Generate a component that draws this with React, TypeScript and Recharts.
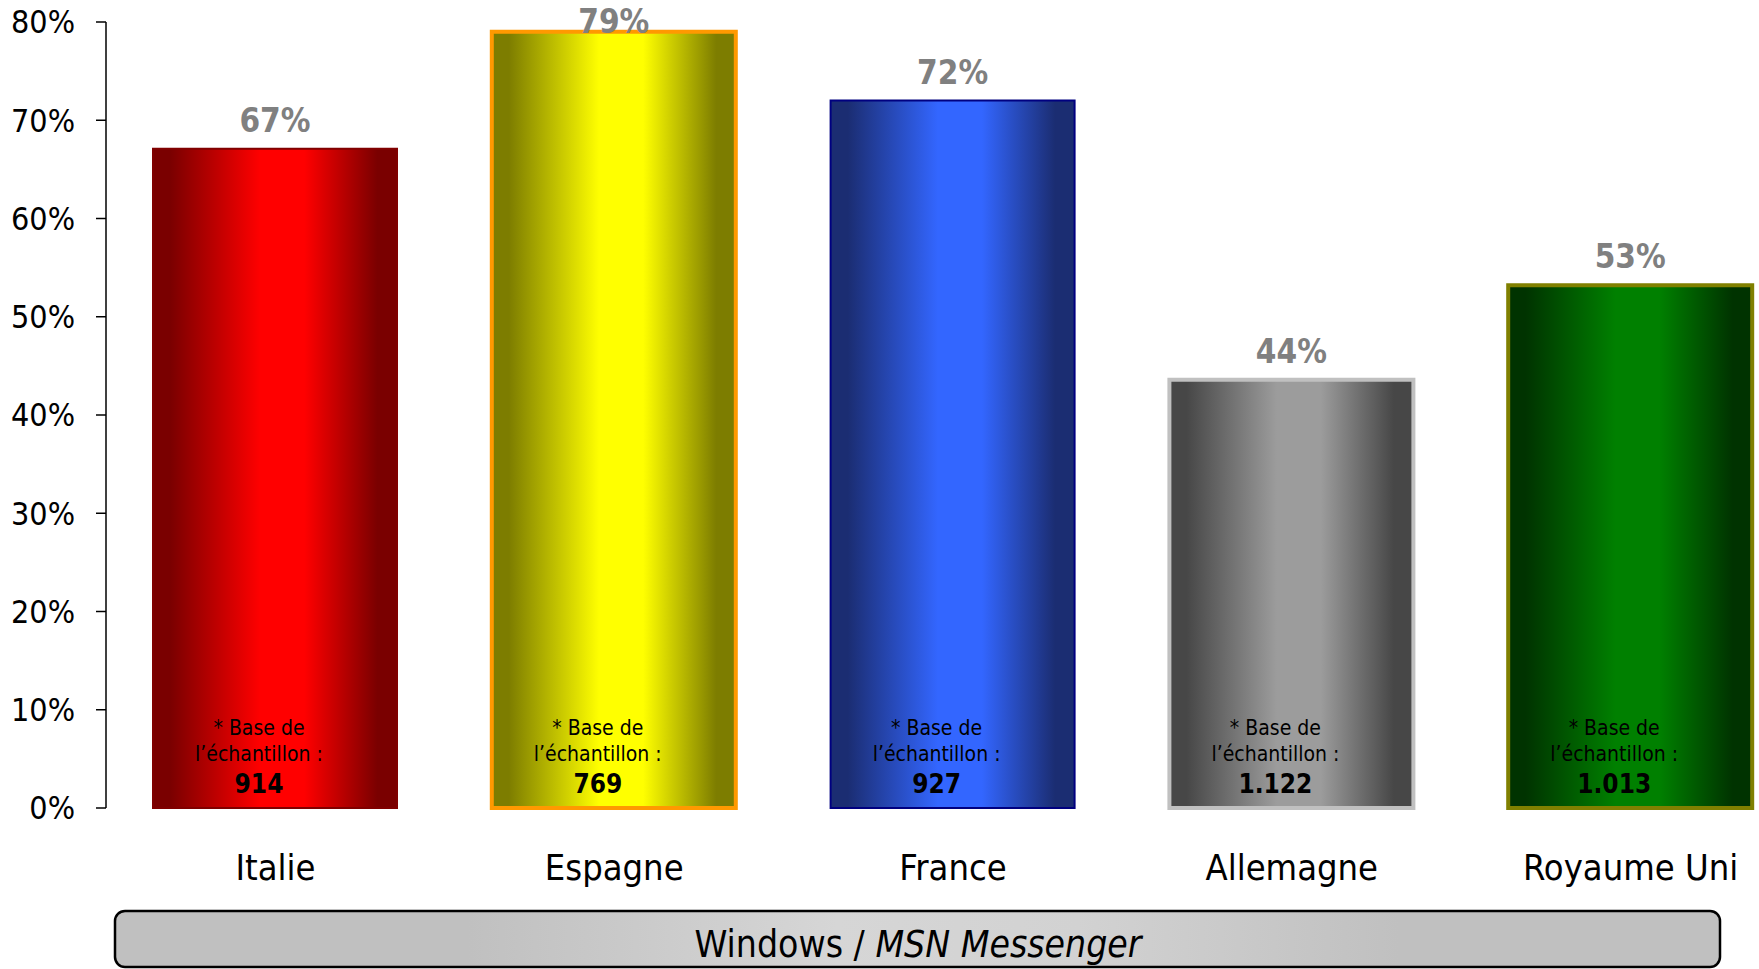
import { BarChart, Bar, XAxis, YAxis, Cell, LabelList } from "recharts";

const COUNTRIES = ["Italie", "Espagne", "France", "Allemagne", "Royaume Uni"];
const SHARE = [67.1, 79, 72, 43.6, 53.2];
const SAMPLE = ["914", "769", "927", "1.122", "1.013"];
const Y_TICKS = [0, 10, 20, 30, 40, 50, 60, 70, 80];

// edge colour, centre colour, border colour, border width
const BAR_LOOK = [
  { dark: "#7a0000", light: "#ff0000", stroke: "#800000", sw: 2 },
  { dark: "#7d7d00", light: "#ffff00", stroke: "#ff9900", sw: 4 },
  { dark: "#1b2d72", light: "#3366ff", stroke: "#000080", sw: 2 },
  { dark: "#474747", light: "#9c9c9c", stroke: "#c0c0c0", sw: 4 },
  { dark: "#003300", light: "#008000", stroke: "#808000", sw: 4 },
];

const data = COUNTRIES.map((country, i) => ({
  country,
  value: SHARE[i],
  sample: SAMPLE[i],
}));

const FONT = "'DejaVu Sans Condensed', 'DejaVu Sans', sans-serif";
const W = 1759;
const H = 969;

const CountryTick = (props: any) => {
  const { x, y, payload } = props;
  return (
    <text x={x} y={y} dy={72} textAnchor="middle" fontFamily={FONT} fontSize={36} fill="#000">
      {payload.value}
    </text>
  );
};

const ValueLabel = (props: any) => {
  const { x, y, width, value } = props;
  const base = Math.max(y - 17, 33);
  return (
    <text x={x + width / 2} y={base} textAnchor="middle" fontFamily={FONT} fontWeight="bold" fontSize={33} fill="#808080">
      {Math.round(value)}%
    </text>
  );
};

const SampleLabel = (props: any) => {
  const { x, y, width, height, value } = props;
  const cx = x + width / 2 - 16;
  const bottom = y + height;
  return (
    <g fontFamily={FONT} textAnchor="middle" fill="#000">
      <text x={cx} y={bottom - 73} fontSize={21}>* Base de</text>
      <text x={cx} y={bottom - 47} fontSize={21}>l’échantillon :</text>
      <text x={cx} y={bottom - 15} fontSize={26} fontWeight="bold">{value}</text>
    </g>
  );
};

export default function App() {
  return (
    <div style={{ position: "absolute", left: 0, top: 0, width: W, height: H, overflow: "hidden", background: "#fff" }}>
      <BarChart width={1800} height={H} data={data} margin={{ top: 22, right: 0, left: 0, bottom: 61 }}>
        <defs>
          {BAR_LOOK.map((b, i) => (
            <linearGradient key={i} id={`barGrad${i}`} x1="0" y1="0" x2="1" y2="0">
              <stop offset="0" stopColor={b.dark} />
              <stop offset="0.07" stopColor={b.dark} />
              <stop offset="0.44" stopColor={b.light} />
              <stop offset="0.62" stopColor={b.light} />
              <stop offset="0.92" stopColor={b.dark} />
              <stop offset="1" stopColor={b.dark} />
            </linearGradient>
          ))}
        </defs>
        <XAxis
          dataKey="country"
          axisLine={false}
          tickLine={false}
          tickSize={0}
          tickMargin={0}
          height={100}
          interval={0}
          tick={<CountryTick />}
        />
        <YAxis
          width={106}
          domain={[0, 80]}
          ticks={Y_TICKS}
          interval={0}
          tickFormatter={(v) => `${v}%`}
          axisLine={{ stroke: "#000", strokeWidth: 1.5 }}
          tickLine={{ stroke: "#000", strokeWidth: 1.5 }}
          tickSize={10}
          tickMargin={21}
          tick={{ fontSize: 32, fill: "#000", fontFamily: FONT }}
        />
        <Bar dataKey="value" barSize={244} isAnimationActive={false}>
          {data.map((_, i) => (
            <Cell
              key={i}
              fill={`url(#barGrad${i})`}
              stroke={BAR_LOOK[i].stroke}
              strokeWidth={BAR_LOOK[i].sw}
            />
          ))}
          <LabelList dataKey="value" content={<ValueLabel />} />
          <LabelList dataKey="sample" content={<SampleLabel />} />
        </Bar>
      </BarChart>
      <svg width={W} height={H} style={{ position: "absolute", left: 0, top: 0, pointerEvents: "none" }}>
        <defs>
          <linearGradient id="boxGlow" x1="0" y1="0" x2="1" y2="0">
            <stop offset="0" stopColor="#c0c0c0" />
            <stop offset="0.22" stopColor="#c0c0c0" />
            <stop offset="0.45" stopColor="#d6d6d6" />
            <stop offset="0.6" stopColor="#d2d2d2" />
            <stop offset="0.8" stopColor="#c0c0c0" />
            <stop offset="1" stopColor="#c0c0c0" />
          </linearGradient>
        </defs>
        <rect x={115} y={911} width={1605} height={56} rx={10} ry={10} fill="url(#boxGlow)" stroke="#000" strokeWidth={2.5} />
        <text x={918} y={957} textAnchor="middle" fontFamily={FONT} fontSize={37} fill="#000">
          Windows / <tspan fontStyle="italic">MSN Messenger</tspan>
        </text>
      </svg>
    </div>
  );
}
